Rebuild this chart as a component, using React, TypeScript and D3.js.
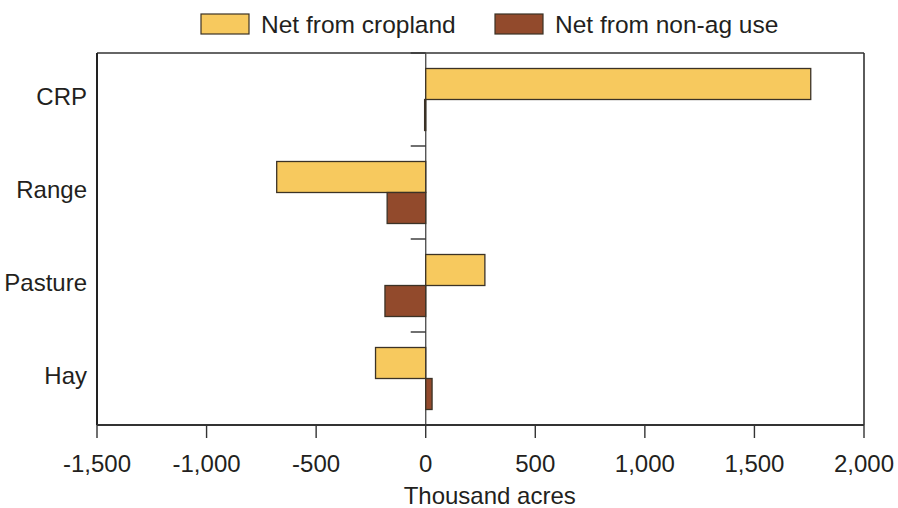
import React from "react";
import * as d3 from "d3";

const categories = ["CRP", "Range", "Pasture", "Hay"];
const seriesNames = ["Net from cropland", "Net from non-ag use"];
const croplandValues = [1757, -680, 270, -229];
const nonAgValues = [-5, -176, -186, 29];
const xTicks = [-1500, -1000, -500, 0, 500, 1000, 1500, 2000];
const xLabel = "Thousand acres";
const colors = ["#F7C95E", "#924A2C"];

const W = 898;
const H = 508;
const M = { left: 97, right: 864, top: 53, bottom: 425 };
const FONT = "'Liberation Sans', Arial, Helvetica, sans-serif";
const TEXT = "#231F20";

export default function App() {
  const x = d3.scaleLinear().domain([-1500, 2000]).range([M.left, M.right]);
  const y = d3.scaleBand<string>().domain(categories).range([M.top, M.bottom]).padding(0);
  const inner = d3
    .scaleBand<string>()
    .domain(seriesNames)
    .range([0, y.bandwidth()])
    .paddingInner(0)
    .paddingOuter(0.5);
  const seriesValues = [croplandValues, nonAgValues];
  const fmt = (v: number) => d3.format(",")(v).replace("\u2212", "-");
  const x0 = x(0);
  const boundaries = [...categories.map((c) => y(c) as number), M.bottom];

  return (
    <svg
      width={W}
      height={H}
      style={{ position: "absolute", left: 0, top: 0, background: "#fff" }}
      fontFamily={FONT}
    >
      {/* legend */}
      {seriesNames.map((s, i) => {
        const lx = [201, 495][i];
        return (
          <g key={s}>
            <rect x={lx} y={14} width={48} height={20} fill={colors[i]} stroke="#3b3226" strokeWidth={1.2} />
            <text x={lx + 60} y={33} fontSize={24.5} fill={TEXT}>
              {s}
            </text>
          </g>
        );
      })}

      {/* frame top & right */}
      <line x1={M.left} x2={M.right} y1={M.top} y2={M.top} stroke="#333" strokeWidth={1.6} />
      <line x1={M.right} x2={M.right} y1={M.top} y2={M.bottom} stroke="#333" strokeWidth={1.6} />

      {/* zero line */}
      <line x1={x0} x2={x0} y1={M.top} y2={M.bottom} stroke="#555" strokeWidth={1.4} />

      {/* category boundary ticks on zero line */}
      {boundaries.map((b, i) => (
        <line key={i} x1={x0 - 15} x2={x0} y1={b} y2={b} stroke="#333" strokeWidth={1.4} />
      ))}

      {/* bars */}
      {categories.map((c, ci) =>
        seriesNames.map((s, si) => {
          const v = seriesValues[si][ci];
          const bx = Math.min(x(v), x0);
          const bw = Math.abs(x(v) - x0);
          return (
            <rect
              key={c + s}
              x={bx}
              y={(y(c) as number) + (inner(s) as number)}
              width={Math.max(bw, 0.8)}
              height={inner.bandwidth()}
              fill={colors[si]}
              stroke="#3b3226"
              strokeWidth={1.3}
            />
          );
        })
      )}

      {/* left axis */}
      <line x1={M.left} x2={M.left} y1={M.top} y2={M.bottom} stroke="#222" strokeWidth={2} />
      {categories.map((c) => (
        <text
          key={c}
          x={M.left - 10}
          y={(y(c) as number) + y.bandwidth() / 2 + 5.5}
          textAnchor="end"
          fontSize={24}
          fill={TEXT}
        >
          {c}
        </text>
      ))}

      {/* bottom axis */}
      <line x1={M.left} x2={M.right} y1={M.bottom} y2={M.bottom} stroke="#333" strokeWidth={1.8} />
      {xTicks.map((t) => (
        <g key={t}>
          <line x1={x(t)} x2={x(t)} y1={M.bottom} y2={M.bottom + 13} stroke="#333" strokeWidth={1.4} />
          <text x={x(t)} y={472} textAnchor="middle" fontSize={24} fill={TEXT}>
            {fmt(t)}
          </text>
        </g>
      ))}
      <text x={x0 + 64} y={504} textAnchor="middle" fontSize={24} fill={TEXT}>
        {xLabel}
      </text>
    </svg>
  );
}
